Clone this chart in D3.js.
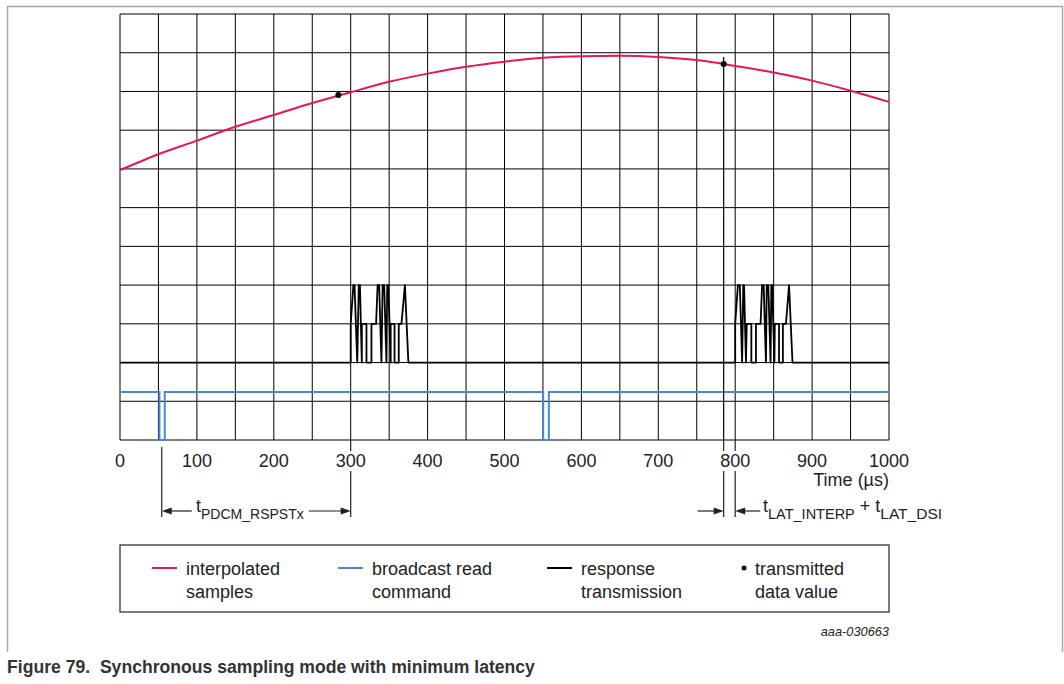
<!DOCTYPE html>
<html>
<head>
<meta charset="utf-8">
<script src="https://cdn.jsdelivr.net/npm/d3@7"></script>
<style>
  body { margin: 0; background: #fff; }
  svg { display: block; font-family: "Liberation Sans", Arial, sans-serif; }
</style>
</head>
<body>
<svg id="chart" width="1064" height="684"></svg>
<script>
// time axis (µs) and the grid rows
let xTicks = [0, 100, 200, 300, 400, 500, 600, 700, 800, 900, 1000];
let xGridStep = 50;
let yRows = 11;

// interpolated samples (time, level in grid rows)
let sampleTime = [0, 50, 100, 150, 200, 250, 300, 350, 400, 450, 500, 550, 600, 650, 700, 750, 800, 850, 900, 950, 1000];
let sampleLevel = [6.97, 7.38, 7.73, 8.09, 8.39, 8.70, 8.98, 9.25, 9.46, 9.64, 9.77, 9.87, 9.91, 9.92, 9.89, 9.81, 9.66, 9.49, 9.28, 9.02, 8.73];

// transmitted data values
let dotTime = [284, 785];
let dotLevel = [8.91, 9.71];

// broadcast read command (step signal)
let cmdTime = [0, 51.3, 51.3, 58.2, 58.2, 550.3, 550.3, 557.7, 557.7, 1000];
let cmdLevel = [1.24, 1.24, 0, 0, 1.24, 1.24, 0, 0, 1.24, 1.24];

// response transmission bursts
let burst1 = [[300,2],[300,3],[303.5,4],[305,4],[308.5,2],[310.5,4],[312,4],[314.5,2],[314.5,3],[320.5,3],[320.5,2],[327,2],[327,3],[333,3],[335,4],[337,4],[340,2],[341.5,4],[343.5,4],[346.5,2],[347.5,4],[349,4],[352,2],[352,3],[357,3],[357,2],[362.5,2],[362.5,3],[366,3],[370.5,4],[375,2]];
let burst2 = [[800,2],[800,3],[803.5,4],[806,4],[809,2],[810.5,4],[811.5,4],[814,2],[815,3],[821,3],[821,2],[827,2],[827,3],[833,3],[835,4],[837,4],[840,2],[841,4],[843,4],[846,2],[847,4],[848,4],[851,2],[851.5,3],[857,3],[857,2],[862,2],[862,3],[866,3],[870,4],[874.5,2]];

// legend entries
let legendLabels = [["interpolated", "samples"], ["broadcast read", "command"], ["response", "transmission"], ["transmitted", "data value"]];
let legendColors = ["#e2185a", "#4a89cc", "#000", "#000"];

let svg = d3.select("#chart");

// outer frame
svg.append("path")
    .attr("d", "M7.5,652 V6.5 H1062.5 V652")
    .attr("fill", "none")
    .attr("stroke", "#a6a6a6")
    .attr("stroke-width", 1.5);

let xScale = d3.scaleLinear().domain([0, 1000]).range([120, 889]);
let yScale = d3.scaleLinear().domain([0, yRows]).range([440, 14]);

// grid
let grid = svg.append("g");
grid.selectAll("line.v")
    .data(d3.range(0, 1000 + 1, xGridStep))
    .enter().append("line")
    .attr("x1", d => xScale(d)).attr("x2", d => xScale(d))
    .attr("y1", yScale(0)).attr("y2", yScale(yRows))
    .attr("stroke", "#000").attr("stroke-width", 1);
grid.selectAll("line.h")
    .data(d3.range(0, yRows + 1))
    .enter().append("line")
    .attr("x1", xScale(0)).attr("x2", xScale(1000))
    .attr("y1", d => yScale(d)).attr("y2", d => yScale(d))
    .attr("stroke", "#000").attr("stroke-width", 1);

// x tick labels
svg.append("g").selectAll("text")
    .data(xTicks)
    .enter().append("text")
    .attr("x", d => xScale(d))
    .attr("y", 467)
    .attr("text-anchor", "middle")
    .attr("font-size", 18)
    .attr("fill", "#222")
    .text(d => d);

svg.append("text")
    .attr("x", xScale(1000))
    .attr("y", 485.5)
    .attr("text-anchor", "end")
    .attr("font-size", 18)
    .attr("fill", "#222")
    .text("Time (µs)");

let line = d3.line().x(d => xScale(d[0])).y(d => yScale(d[1]));

// broadcast read command
svg.append("path")
    .attr("d", line(cmdTime.map((t, i) => [t, cmdLevel[i]])))
    .attr("fill", "none")
    .attr("stroke", legendColors[1])
    .attr("stroke-width", 2);

// response transmission
let response = [[0, 2]].concat(burst1, burst2, [[1000, 2]]);
svg.append("path")
    .attr("d", line(response))
    .attr("fill", "none")
    .attr("stroke", "#000")
    .attr("stroke-width", 1.8)
    .attr("stroke-linejoin", "round");

// interpolated samples
svg.append("path")
    .attr("d", d3.line().curve(d3.curveMonotoneX).x(d => xScale(d[0])).y(d => yScale(d[1]))(sampleTime.map((t, i) => [t, sampleLevel[i]])))
    .attr("fill", "none")
    .attr("stroke", legendColors[0])
    .attr("stroke-width", 2);

// marker line from the second data value down past the axis
svg.append("line")
    .attr("x1", xScale(dotTime[1])).attr("x2", xScale(dotTime[1]))
    .attr("y1", yScale(dotLevel[1]) - 7).attr("y2", yScale(0))
    .attr("stroke", "#000").attr("stroke-width", 1.2);

svg.selectAll("circle.dot")
    .data(dotTime)
    .enter().append("circle")
    .attr("cx", d => xScale(d))
    .attr("cy", (d, i) => yScale(dotLevel[i]))
    .attr("r", 3)
    .attr("fill", "#000");

// annotation dimension lines below the axis
let annot = svg.append("g").attr("stroke", "#222").attr("stroke-width", 1.2);
annot.append("line")
    .attr("x1", xScale(54.3)).attr("x2", xScale(54.3))
    .attr("y1", 447).attr("y2", 517);
[300, dotTime[1], 800].forEach(t => {
    annot.append("line").attr("x1", xScale(t)).attr("x2", xScale(t)).attr("y1", 440).attr("y2", 451);
    annot.append("line").attr("x1", xScale(t)).attr("x2", xScale(t)).attr("y1", 471).attr("y2", 517);
});

function arrow(xFrom, xTo, y) {
    let dir = xTo > xFrom ? 1 : -1;
    svg.append("line")
        .attr("x1", xFrom).attr("x2", xTo - dir * 8)
        .attr("y1", y).attr("y2", y)
        .attr("stroke", "#222").attr("stroke-width", 1.2);
    svg.append("path")
        .attr("d", `M${xTo},${y} L${xTo - dir * 10},${y - 3.5} L${xTo - dir * 10},${y + 3.5} Z`)
        .attr("fill", "#222");
}

let arrowY = 511;
arrow(xScale(54.3) + 30, xScale(54.3), arrowY);
arrow(xScale(300) - 42, xScale(300), arrowY);
arrow(xScale(dotTime[1]) - 26, xScale(dotTime[1]), arrowY);
arrow(xScale(800) + 25, xScale(800), arrowY);

// annotation texts with subscripts
let t1 = svg.append("text").attr("x", 196).attr("y", 512).attr("font-size", 18).attr("fill", "#222");
t1.append("tspan").text("t");
t1.append("tspan").attr("font-size", 14).attr("dy", 7).text("PDCM_RSPSTx");

let t2 = svg.append("text").attr("x", 763).attr("y", 512).attr("font-size", 18).attr("fill", "#222");
t2.append("tspan").text("t");
t2.append("tspan").attr("font-size", 14.5).attr("dy", 7).text("LAT_INTERP");
t2.append("tspan").attr("dy", -7).text(" + t");
t2.append("tspan").attr("font-size", 15.5).attr("dy", 7).text("LAT_DSI");

// legend box
svg.append("rect")
    .attr("x", 120).attr("y", 545)
    .attr("width", 769).attr("height", 67)
    .attr("fill", "none")
    .attr("stroke", "#222")
    .attr("stroke-width", 1.2);

let legendX = [152, 338, 547, 744];
let legend = svg.append("g").selectAll("g")
    .data(legendLabels)
    .enter().append("g")
    .attr("transform", (d, i) => `translate(${legendX[i]},568)`);

legend.each(function(d, i) {
    let g = d3.select(this);
    if (i < 3) {
        g.append("line").attr("x1", 0).attr("x2", 25).attr("y1", 0).attr("y2", 0)
            .attr("stroke", legendColors[i]).attr("stroke-width", 2);
    } else {
        g.append("circle").attr("cx", 0).attr("cy", 0).attr("r", 2.5).attr("fill", "#000");
    }
    let tx = i < 3 ? 34 : 11;
    g.append("text").attr("x", tx).attr("y", 6.5).attr("font-size", 18).attr("fill", "#222").text(d[0]);
    g.append("text").attr("x", tx).attr("y", 29.5).attr("font-size", 18).attr("fill", "#222").text(d[1]);
});

svg.append("text")
    .attr("x", 889).attr("y", 636)
    .attr("text-anchor", "end")
    .attr("font-size", 12.8)
    .attr("font-style", "italic")
    .attr("fill", "#222")
    .text("aaa-030663");

// caption
svg.append("text")
    .attr("x", 7).attr("y", 673)
    .attr("font-size", 17.6)
    .attr("font-weight", "bold")
    .attr("fill", "#333")
    .attr("xml:space", "preserve")
    .text("Figure 79.  Synchronous sampling mode with minimum latency");
</script>
</body>
</html>
